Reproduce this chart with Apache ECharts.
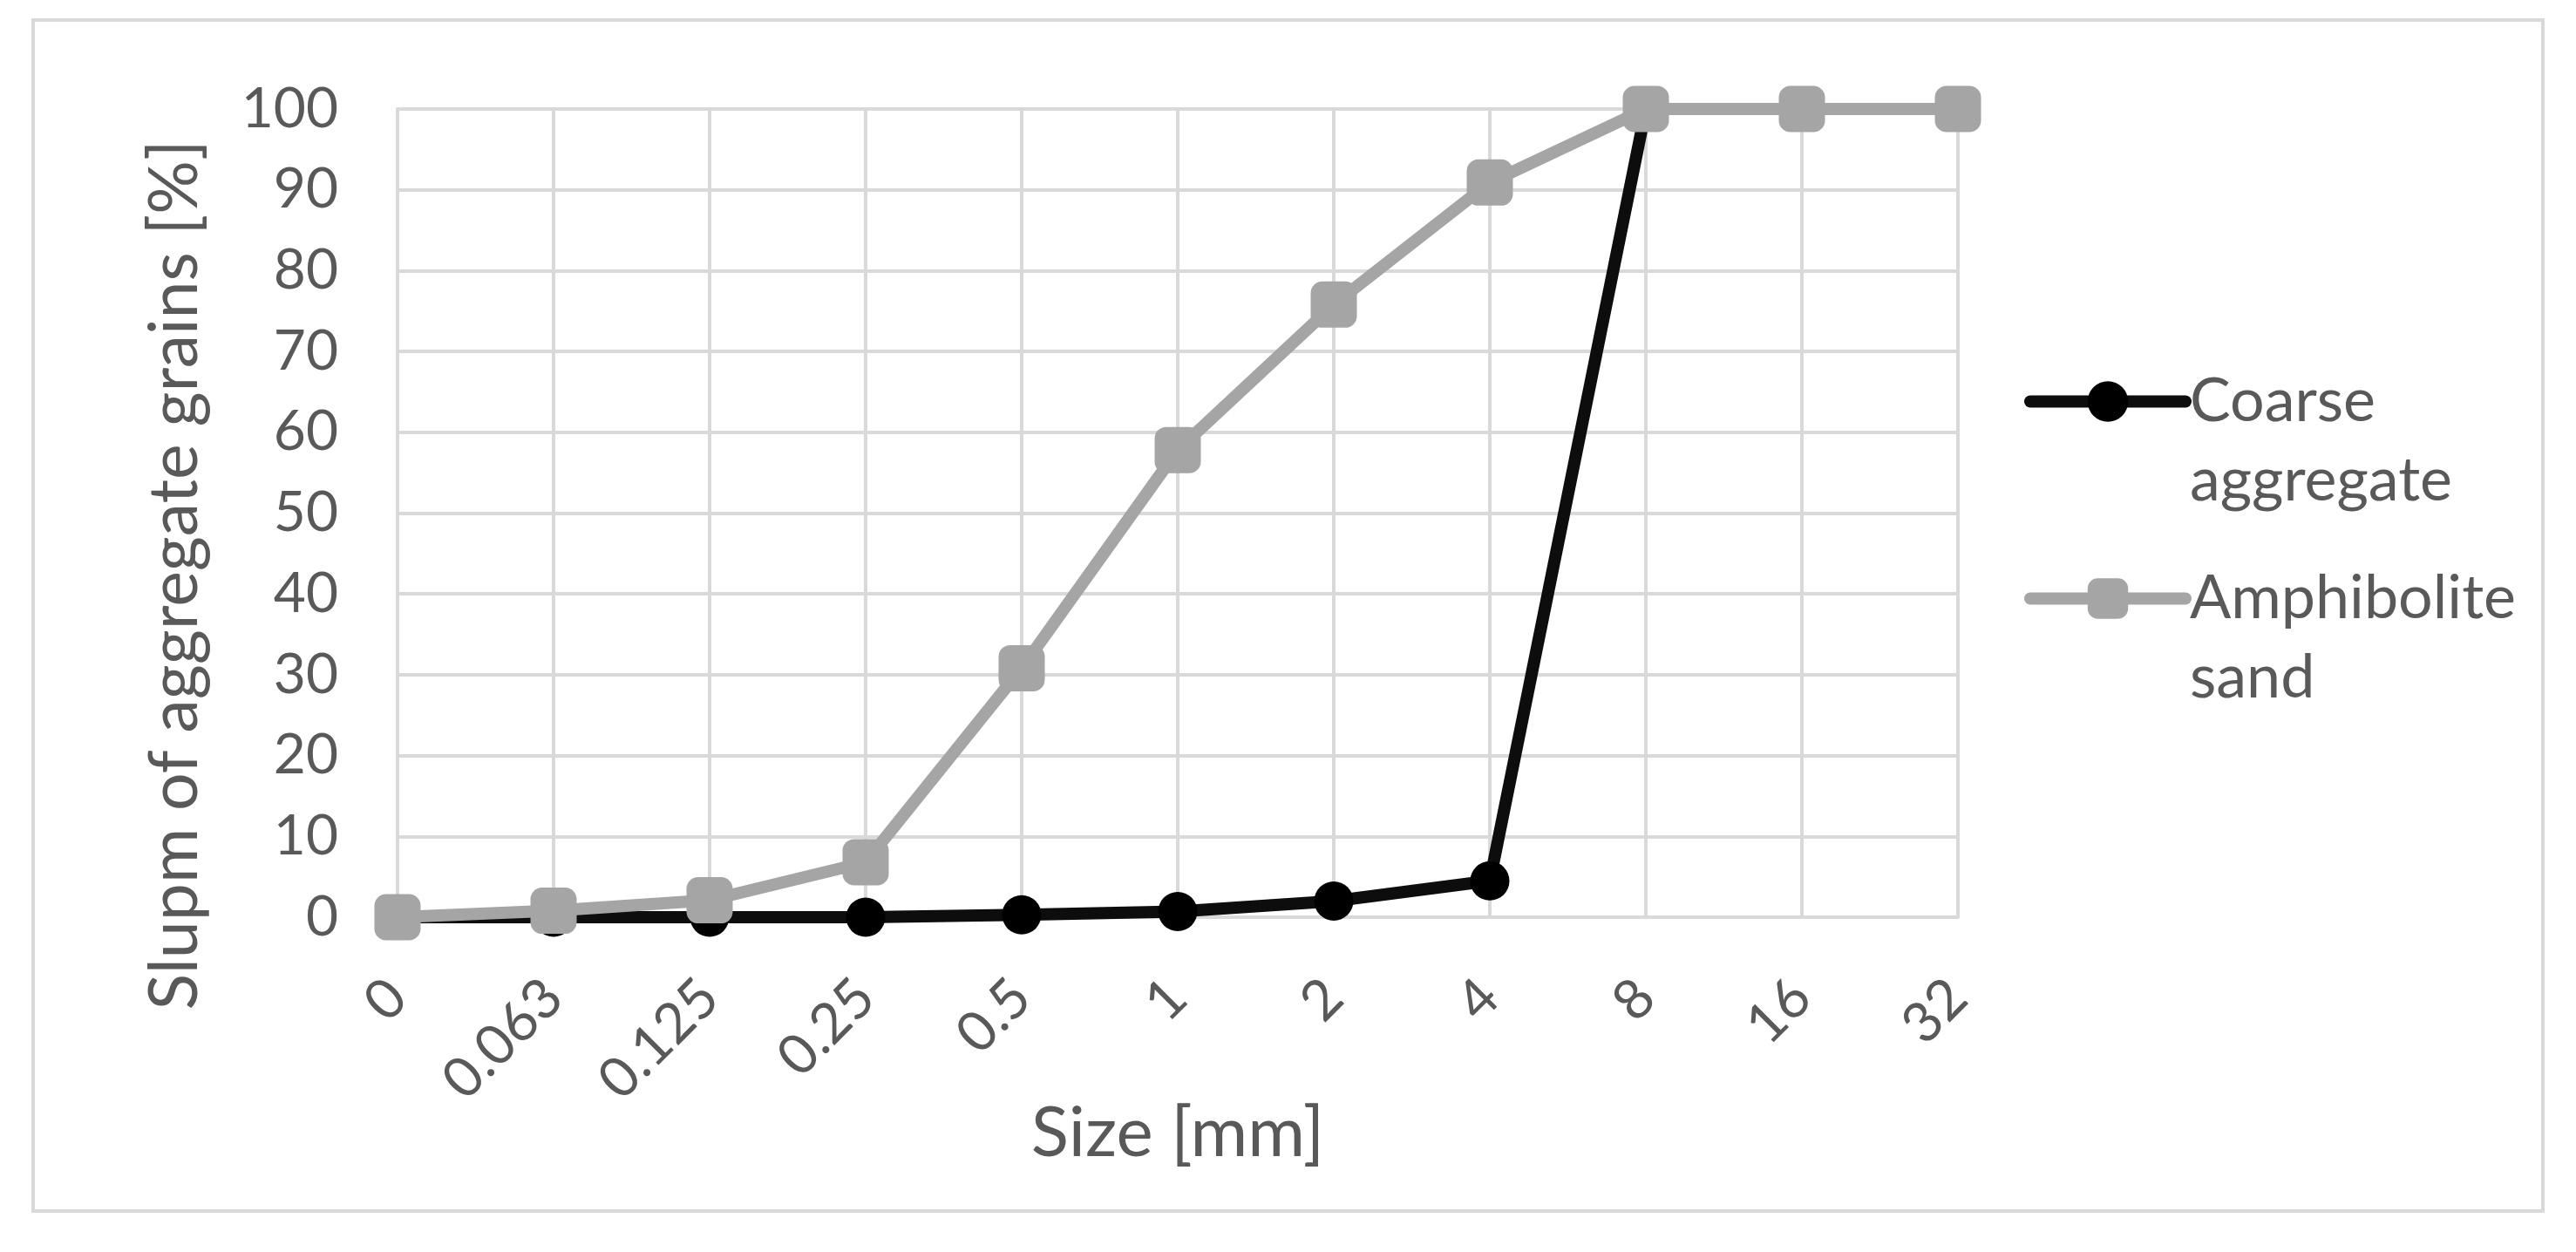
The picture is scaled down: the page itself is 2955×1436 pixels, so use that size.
<!DOCTYPE html>
<html>
	<head>
		<meta charset="utf-8">
		<title>Grain size distribution</title>
		<script src="https://cdn.jsdelivr.net/npm/echarts@6/dist/echarts.min.js"></script>
	</head>
	<body style="margin: 0;">
		<div id="box" style="width: 2955px;height: 1436px;"></div>
		<script>
			var sizes = ['0', '0.063', '0.125', '0.25', '0.5', '1', '2', '4', '8', '16', '32']
			var coarseData = [0, 0, 0, 0, 0.3, 0.7, 2.0, 4.5, 100, '-', '-']
			var sandData = [0, 0.8, 2.1, 6.8, 30.8, 57.8, 75.8, 90.9, 100, 100, 100]
			var yTicks = [0, 100, 10]  // min, max, interval

			var txt = '#595959'
			var grid = '#d9d9d9'
			var font = 'Lato'

			var mCharts = echarts.init(document.querySelector('#box'))
			var option = {
				animation: false,
				backgroundColor: '#fff',
				graphic: [{
					type: 'rect',
					shape: { x: 38, y: 23, width: 2879, height: 1366 },
					style: { fill: 'none', stroke: grid, lineWidth: 4 },
					silent: true
				}],
				grid: { left: 456, right: 709, top: 125, bottom: 384 },
				legend: {
					orient: 'vertical',
					left: 2317,
					top: 319,
					itemWidth: 178,
					itemHeight: 58,
					itemGap: -47,
					lineStyle: { width: 14, cap: 'round' },
					// leading blank line keeps the icon level with the first text line
					formatter: function (name) {
						return '\n' + name.replace(' ', '\n')
					},
					textStyle: {
						color: txt,
						fontFamily: font,
						fontSize: 70,
						lineHeight: 91
					}
				},
				xAxis: {
					type: 'category',
					data: sizes,
					boundaryGap: false,
					name: 'Size [mm]',
					nameLocation: 'middle',
					nameGap: 208,
					nameMoveOverlap: false,
					nameTextStyle: { color: txt, fontFamily: font, fontSize: 80 },
					axisLine: { lineStyle: { color: grid, width: 4 } },
					axisTick: { show: false },
					axisLabel: {
						rotate: 45,
						margin: 82,
						color: txt,
						fontFamily: font,
						fontSize: 64
					},
					splitLine: { show: true, lineStyle: { color: grid, width: 4 } }
				},
				yAxis: {
					type: 'value',
					min: yTicks[0],
					max: yTicks[1],
					interval: yTicks[2],
					name: 'Slupm of aggregate grains [%]',
					nameLocation: 'middle',
					nameGap: 216,
					nameTextStyle: {
						color: txt,
						fontFamily: font,
						fontSize: 77,
						padding: [0, 142, 0, 0]
					},
					axisLine: { show: true, lineStyle: { color: grid, width: 4 } },
					axisTick: { show: false },
					axisLabel: {
						margin: 68,
						color: txt,
						fontFamily: font,
						fontSize: 64
					},
					splitLine: { lineStyle: { color: grid, width: 4 } }
				},
				series: [{
					name: 'Coarse aggregate',
					type: 'line',
					data: coarseData,
					symbol: 'circle',
					symbolSize: 45,
					color: '#000000',
					lineStyle: { color: '#0d0d0d', width: 14 },
					itemStyle: { color: '#000000' }
				}, {
					name: 'Amphibolite sand',
					type: 'line',
					data: sandData,
					symbol: 'roundRect',
					symbolSize: 53,
					color: '#a5a5a5',
					lineStyle: { color: '#a5a5a5', width: 14 },
					itemStyle: { color: '#a5a5a5' }
				}]
			}
			mCharts.setOption(option)
		</script>
	</body>
</html>
